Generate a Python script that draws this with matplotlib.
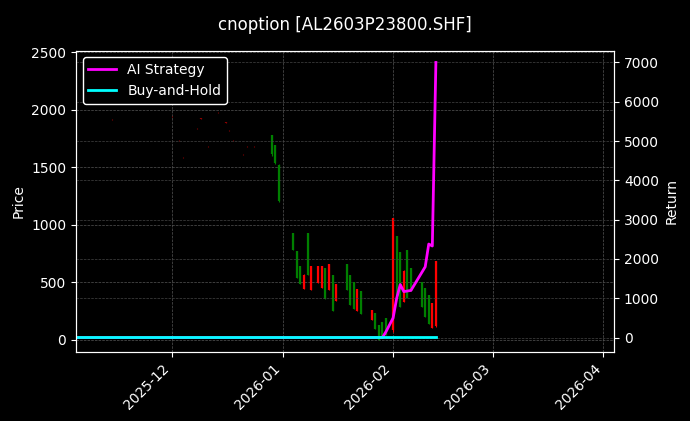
import matplotlib
matplotlib.use("Agg")
import matplotlib.pyplot as plt
import matplotlib.dates as mdates
import pandas as pd

# candles: date, open, high, low, close, colour
dates = ["2025-11-14", "2025-12-01", "2025-12-03", "2025-12-04", "2025-12-08", "2025-12-09",
         "2025-12-11", "2025-12-14", "2025-12-16", "2025-12-17", "2025-12-18", "2025-12-21",
         "2025-12-22", "2025-12-24",
         "2025-12-29", "2025-12-30", "2025-12-31",
         "2026-01-04", "2026-01-05", "2026-01-06", "2026-01-07", "2026-01-08", "2026-01-09",
         "2026-01-11", "2026-01-12", "2026-01-13", "2026-01-14", "2026-01-15", "2026-01-16",
         "2026-01-19", "2026-01-20", "2026-01-21", "2026-01-22", "2026-01-23",
         "2026-01-26", "2026-01-27", "2026-01-28", "2026-01-29", "2026-01-30",
         "2026-02-01", "2026-02-02", "2026-02-03", "2026-02-04", "2026-02-05", "2026-02-06",
         "2026-02-09", "2026-02-10", "2026-02-11", "2026-02-12", "2026-02-13"]
opens = [1918, 1944, 1736, 1589, 1840, 1927, 1684, 1979, 1892, 1823, 1736, 1615, 1684, 1684,
         1780, 1690, 1520,
         930, 770, 640, 560, 930, 640,
         640, 640, 620, 660, 560, 480,
         660, 560, 500, 440, 420,
         260, 230, 130, 150, 190,
         80, 900, 760, 330, 780, 620,
         500, 450, 390, 320, 120]
highs = [1922, 1948, 1740, 1593, 1844, 1931, 1688, 1983, 1896, 1827, 1740, 1619, 1688, 1688,
         1780, 1690, 1530,
         930, 770, 640, 570, 930, 640,
         640, 640, 620, 660, 560, 480,
         660, 560, 500, 440, 420,
         260, 230, 130, 150, 190,
         1060, 900, 760, 610, 780, 620,
         500, 450, 390, 320, 680]
lows = [1914, 1940, 1732, 1585, 1836, 1923, 1680, 1975, 1888, 1819, 1732, 1611, 1680, 1680,
        1600, 1530, 1200,
        780, 540, 480, 440, 560, 430,
        490, 450, 350, 430, 250, 340,
        430, 300, 270, 250, 220,
        170, 90, 0, 30, 40,
        70, 380, 280, 330, 360, 420,
        280, 200, 140, 100, 110]
closes = [1920, 1946, 1738, 1587, 1842, 1925, 1682, 1981, 1890, 1821, 1734, 1613, 1682, 1686,
          1620, 1540, 1210,
          780, 540, 480, 440, 560, 430,
          490, 450, 350, 430, 250, 340,
          430, 300, 270, 250, 220,
          170, 90, 0, 30, 40,
          1060, 380, 280, 600, 360, 420,
          280, 200, 140, 100, 680]
colors = ["#8b0000"] * 14 + ["green"] * 6 + ["red", "green", "red",
          "red", "red", "green", "red", "green", "red",
          "green", "green", "green", "red", "green",
          "red", "green", "green", "green", "green",
          "red", "green", "green", "red", "green", "green",
          "green", "green", "green", "red", "red"]

ret_dates = ["2025-11-04", "2026-01-29", "2026-01-30", "2026-02-01", "2026-02-02", "2026-02-03",
             "2026-02-04", "2026-02-06", "2026-02-09", "2026-02-10", "2026-02-11", "2026-02-12",
             "2026-02-13"]
ai_ret = [0, 0, 150, 500, 1000, 1350, 1170, 1200, 1650, 1800, 2380, 2330, 7000]
bh_ret = [25, 25, 25, 25, 25, 25, 25, 25, 25, 25, 25, 25, 25]

plt.style.use("dark_background")
fig, ax = plt.subplots(figsize=(6.9, 4.21), dpi=100)
fig.patch.set_facecolor("black")
ax.set_facecolor("black")

x = pd.to_datetime(dates)
for d, o, h, l, c, col in zip(x, opens, highs, lows, closes, colors):
    ax.vlines(d, l, h, color=col, linewidth=0.8)
    ax.vlines(d, min(o, c), max(o, c), color=col, linewidth=1.6)

ax.set_ylabel("Price")
ax.set_ylim(-104, 2517)
ax.set_xlim(pd.Timestamp("2025-11-04"), pd.Timestamp("2026-04-04"))
ax.grid(True, linestyle="--", linewidth=0.5, color="#555555")

ax2 = ax.twinx()
rx = pd.to_datetime(ret_dates)
ax2.plot(rx, ai_ret, color="magenta", linewidth=2, label="AI Strategy")
ax2.plot(rx, bh_ret, color="cyan", linewidth=2, label="Buy-and-Hold")
ax2.set_ylabel("Return")
ax2.set_ylim(-355, 7304)
ax2.grid(True, linestyle="--", linewidth=0.5, color="#444444")
ax2.legend(loc="upper left", facecolor="black", edgecolor="white", framealpha=1)

ax.xaxis.set_major_locator(mdates.MonthLocator())
ax.xaxis.set_major_formatter(mdates.DateFormatter("%Y-%m"))
plt.setp(ax.get_xticklabels(), rotation=45, ha="right")
ax.set_title("cnoption [AL2603P23800.SHF]", pad=15)

fig.subplots_adjust(left=0.11, right=0.89, top=0.88, bottom=0.165)
fig.savefig("out.png", dpi=100, facecolor="black")
